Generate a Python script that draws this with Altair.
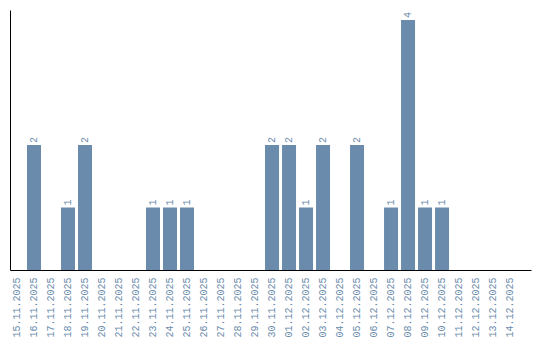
import altair as alt
import pandas as pd

dates = ["15.11.2025","16.11.2025","17.11.2025","18.11.2025","19.11.2025","20.11.2025",
         "21.11.2025","22.11.2025","23.11.2025","24.11.2025","25.11.2025","26.11.2025",
         "27.11.2025","28.11.2025","29.11.2025","30.11.2025","01.12.2025","02.12.2025",
         "03.12.2025","04.12.2025","05.12.2025","06.12.2025","07.12.2025","08.12.2025",
         "09.12.2025","10.12.2025","11.12.2025","12.12.2025","13.12.2025","14.12.2025"]
counts = [0,2,0,1,2,0,0,0,1,1,1,0,0,0,0,2,2,1,2,0,2,0,1,4,1,1,0,0,0,0]

df = pd.DataFrame({"date": dates, "count": counts})
df["label"] = df["count"].apply(lambda v: str(v) if v > 0 else "")

color = "#6a8bab"
font = "Liberation Mono"

x = alt.X("date:N", sort=dates, title=None,
          scale=alt.Scale(paddingInner=0.176, paddingOuter=0.41, align=0),
          axis=alt.Axis(labelAngle=270, ticks=False, labelPadding=7, labelColor=color,
                        labelFont=font, labelFontSize=10, domainColor="black",
                        labelAlign="right", labelBaseline="middle"))
y = alt.Y("count:Q", title=None, scale=alt.Scale(domain=[0, 4.16], nice=False),
          axis=alt.Axis(labels=False, ticks=False, grid=False, domainColor="black"))

bars = alt.Chart(df).mark_bar(color=color).encode(x=x, y=y)
text = alt.Chart(df).mark_text(angle=270, align="left", baseline="middle", dx=2,
                               color=color, font=font, fontSize=10).encode(
    x=alt.X("date:N", sort=dates), y="count:Q", text="label:N")

chart = (bars + text).properties(
    width=521, height=260,
    autosize=alt.AutoSizeParams(type="none"),
    padding={"left": 10, "top": 10, "right": 9, "bottom": 70},
).configure_view(stroke=None).configure_axis(grid=False)

chart.save("out.html", embed_options={"renderer": "svg", "actions": False})
